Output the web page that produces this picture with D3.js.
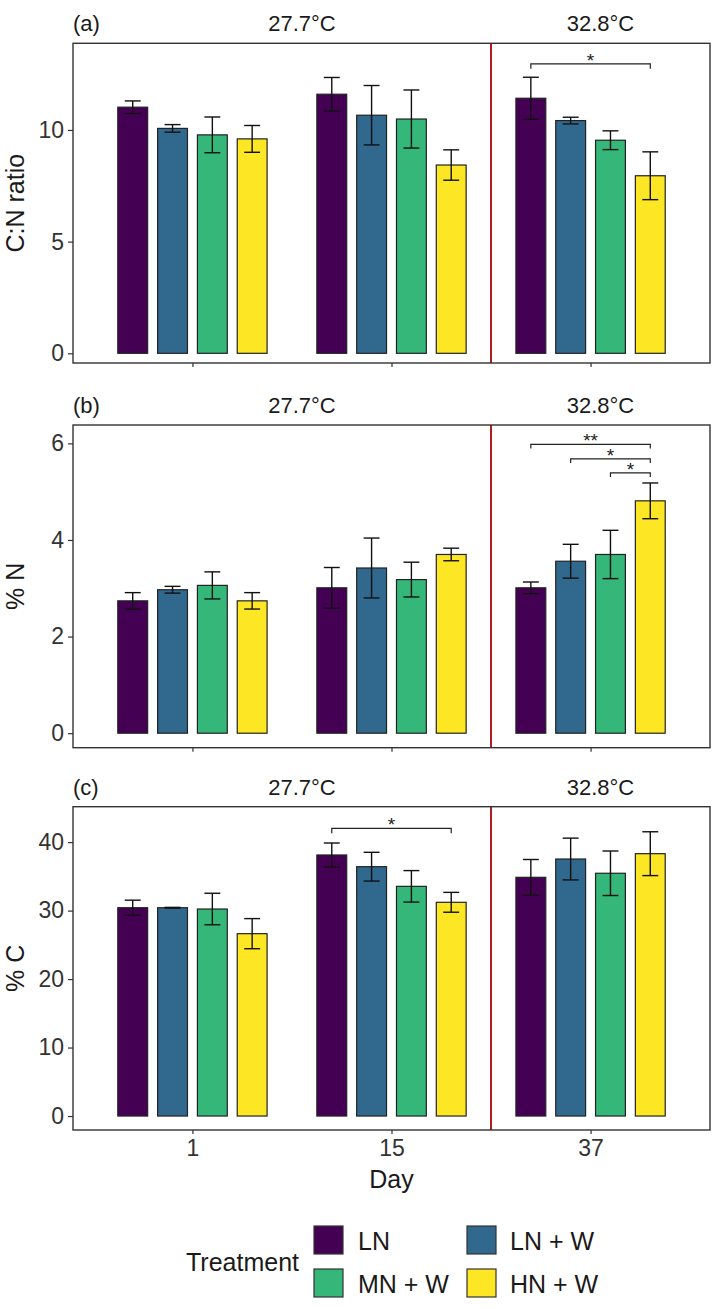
<!DOCTYPE html>
<html>
<head>
<meta charset="utf-8">
<script src="https://cdn.jsdelivr.net/npm/d3@7"></script>
<style>
  html, body { margin: 0; padding: 0; background: #fff; }
  svg { display: block; font-family: "Liberation Sans", Arial, sans-serif; }
</style>
</head>
<body>
<svg id="chart" width="712" height="1309"></svg>
<script>
// ---------------- data ----------------
const days = ["1", "15", "37"];
const treatments = ["LN", "LN + W", "MN + W", "HN + W"];
const colors = ["#440154", "#31688E", "#35B779", "#FDE725"];
const tempLabels = ["27.7°C", "32.8°C"];

// C:N ratio (rows = day, cols = treatment)
const cnMean = [[11.02, 10.07, 9.78, 9.60], [11.60, 10.66, 10.49, 8.43], [11.42, 10.42, 9.54, 7.95]];
const cnErr  = [[0.28, 0.17, 0.80, 0.60], [0.75, 1.33, 1.30, 0.68], [0.94, 0.15, 0.42, 1.07]];
// % N
const nMean = [[2.74, 2.97, 3.06, 2.74], [3.01, 3.42, 3.18, 3.70], [3.01, 3.56, 3.70, 4.81]];
const nErr  = [[0.17, 0.07, 0.28, 0.17], [0.42, 0.62, 0.36, 0.13], [0.12, 0.35, 0.50, 0.37]];
// % C
const cMean = [[30.42, 30.42, 30.23, 26.63], [38.12, 36.41, 33.54, 31.21], [34.86, 37.53, 35.45, 38.31]];
const cErr  = [[1.10, 0.05, 2.30, 2.20], [1.75, 2.10, 2.30, 1.45], [2.60, 3.05, 3.25, 3.20]];

const cnTicks = [0, 5, 10];
const nTicks = [0, 2, 4, 6];
const cTicks = [0, 10, 20, 30, 40];

// significance brackets: day index, from treatment, to treatment, bracket height (data units), label
const cnSig = [{ day: 2, from: 0, to: 3, y: 12.96, label: "*" }];
const nSig = [
  { day: 2, from: 0, to: 3, y: 5.98, label: "**" },
  { day: 2, from: 1, to: 3, y: 5.68, label: "*" },
  { day: 2, from: 2, to: 3, y: 5.39, label: "*" }
];
const cSig = [{ day: 1, from: 0, to: 3, y: 42.0, label: "*" }];

// ---------------- layout ----------------
const svg = d3.select("#chart");
const left = 73, right = 710;
const x = d3.scaleLinear().domain([0.4, 3.6]).range([left, right]);
const dodge = 0.2, barW = 0.15, capW = 0.04;

const panels = [
  { tag: "(a)", title: "C:N ratio", mean: cnMean, err: cnErr, ticks: cnTicks, sig: cnSig,
    top: 43.3, bottom: 363, domain: [-0.434, 13.88], tickLen: 0.22 },
  { tag: "(b)", title: "% N", mean: nMean, err: nErr, ticks: nTicks, sig: nSig,
    top: 425, bottom: 747.7, domain: [-0.30, 6.38], tickLen: 0.085 },
  { tag: "(c)", title: "% C", mean: cMean, err: cErr, ticks: cTicks, sig: cSig,
    top: 806.7, bottom: 1130, domain: [-2.04, 45.17], tickLen: 0.7 }
];

const tempX = [1.55, 3.05];
const txt = "#1a1a1a", tickCol = "#333333", frame = "#333333";

panels.forEach((p, pi) => {
  const y = d3.scaleLinear().domain(p.domain).range([p.bottom, p.top]);
  const g = svg.append("g");

  // strip labels
  g.append("text").attr("x", left).attr("y", p.top - 12)
    .attr("font-size", 22).attr("fill", txt).text(p.tag);
  tempLabels.forEach((t, i) => {
    g.append("text").attr("x", x(tempX[i])).attr("y", p.top - 12)
      .attr("text-anchor", "middle").attr("font-size", 22).attr("fill", txt).text(t);
  });

  // bars
  days.forEach((d, di) => {
    treatments.forEach((tr, ti) => {
      const cx = (di + 1) + (ti - 1.5) * dodge;
      const v = p.mean[di][ti], e = p.err[di][ti];
      g.append("rect")
        .attr("x", x(cx - barW / 2)).attr("width", x(cx + barW / 2) - x(cx - barW / 2))
        .attr("y", y(v)).attr("height", y(0) - y(v))
        .attr("fill", colors[ti]).attr("stroke", "#222").attr("stroke-width", 1.2);
      const eg = g.append("g").attr("stroke", "#111").attr("stroke-width", 1.4).attr("fill", "none");
      eg.append("line").attr("x1", x(cx)).attr("x2", x(cx)).attr("y1", y(v + e)).attr("y2", y(v - e));
      eg.append("line").attr("x1", x(cx - capW)).attr("x2", x(cx + capW)).attr("y1", y(v + e)).attr("y2", y(v + e));
      eg.append("line").attr("x1", x(cx - capW)).attr("x2", x(cx + capW)).attr("y1", y(v - e)).attr("y2", y(v - e));
    });
  });

  // significance brackets
  p.sig.forEach(s => {
    const x1 = x((s.day + 1) + (s.from - 1.5) * dodge);
    const x2 = x((s.day + 1) + (s.to - 1.5) * dodge);
    const yy = y(s.y), yt = y(s.y - p.tickLen);
    g.append("path")
      .attr("d", `M${x1},${yt}V${yy}H${x2}V${yt}`)
      .attr("fill", "none").attr("stroke", "#222").attr("stroke-width", 1.2);
    g.append("text").attr("x", (x1 + x2) / 2).attr("y", yy + 3)
      .attr("text-anchor", "middle").attr("font-size", 19).attr("fill", "#222").text(s.label);
  });

  // red separator
  g.append("line").attr("x1", x(2.5)).attr("x2", x(2.5)).attr("y1", p.top).attr("y2", p.bottom)
    .attr("stroke", "#b01c22").attr("stroke-width", 1.2).attr("shape-rendering", "crispEdges");

  // frame
  g.append("rect").attr("x", left).attr("y", p.top).attr("width", right - left).attr("height", p.bottom - p.top)
    .attr("fill", "none").attr("stroke", frame).attr("stroke-width", 1.4);

  // y axis
  const ya = g.append("g").attr("transform", `translate(${left},0)`)
    .call(d3.axisLeft(y).tickValues(p.ticks).tickSize(5).tickPadding(4).tickFormat(d3.format("d")));
  ya.select(".domain").remove();
  ya.selectAll(".tick line").attr("stroke", tickCol).attr("stroke-width", 1.2);
  ya.selectAll(".tick text").attr("font-size", 23).attr("fill", tickCol)
    .attr("font-family", "Liberation Sans, Arial, sans-serif");

  // x axis
  const xa = g.append("g").attr("transform", `translate(0,${p.bottom})`)
    .call(d3.axisBottom(x).tickValues([1, 2, 3]).tickSize(4).tickPadding(6)
      .tickFormat((d, i) => pi === 2 ? days[i] : ""));
  xa.select(".domain").remove();
  xa.selectAll(".tick line").attr("stroke", tickCol).attr("stroke-width", 1.2);
  xa.selectAll(".tick text").attr("font-size", 23).attr("fill", tickCol)
    .attr("font-family", "Liberation Sans, Arial, sans-serif");

  // y title
  g.append("text")
    .attr("transform", `translate(${24},${(p.top + p.bottom) / 2}) rotate(-90)`)
    .attr("text-anchor", "middle").attr("font-size", 25).attr("fill", txt).text(p.title);
});

// x title
svg.append("text").attr("x", (left + right) / 2).attr("y", 1188)
  .attr("text-anchor", "middle").attr("font-size", 25).attr("fill", txt).text("Day");

// legend
const lg = svg.append("g");
lg.append("text").attr("x", 299).attr("y", 1271).attr("text-anchor", "end")
  .attr("font-size", 25).attr("fill", txt).text("Treatment");
const keyX = [314, 467], keyY = [1226, 1269], labX = [358, 510];
treatments.forEach((t, i) => {
  const col = i % 2, row = Math.floor(i / 2);
  lg.append("rect").attr("x", keyX[col]).attr("y", keyY[row]).attr("width", 29).attr("height", 28)
    .attr("fill", colors[i]).attr("stroke", "#333").attr("stroke-width", 1.2);
  lg.append("text").attr("x", labX[col]).attr("y", keyY[row] + 24)
    .attr("font-size", 25).attr("fill", txt).text(t);
});
</script>
</body>
</html>
